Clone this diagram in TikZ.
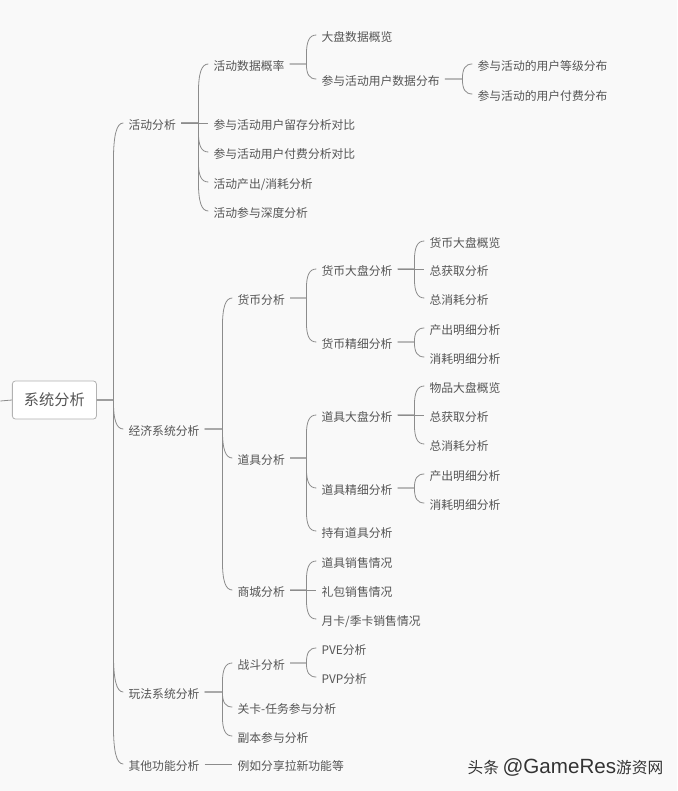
\documentclass[tikz,border=0pt]{standalone}
\usepackage{fontspec}
\setmainfont{Noto Sans CJK SC}
\newfontfamily\latinfont{Liberation Sans}
\usetikzlibrary{calc}
\definecolor{bgcol}{HTML}{F9F9F9}
\definecolor{txtcol}{HTML}{555555}
\definecolor{linecol}{HTML}{8C8C8C}
\tikzset{
    item/.style={anchor=west, inner xsep=5pt, inner ysep=0pt, text height=13pt, text depth=0pt, text=txtcol, font=\fontsize{11.8}{14}\selectfont},
    rootbox/.style={draw=black!30, fill=white, rounded corners=3pt, line width=0.8pt, minimum width=84pt, minimum height=38pt, text=txtcol, font=\fontsize{15.2}{18}\selectfont},
    mark text/.style={anchor=west, inner sep=0pt, font=\fontsize{15.7}{18}\selectfont},
    link/.style={draw=linecol, line width=0.8pt},
    branch/.style={link, to path={
        let \p1=(\tikztostart), \p2=(\tikztotarget),
            \n1={\x2-10pt}, \n2={min(#1,abs(\y2-\y1))*(\y2>\y1?1:-1)} in
        -- (\n1,\y1) -- (\n1,\y2-\n2)
        .. controls (\n1,\y2-0.3*\n2) and (\n1+3pt,\y2) .. (\p2)}},
    branch/.default=20pt
}
\begin{document}
\begin{tikzpicture}[x=1pt, y=-1pt]
    \fill[bgcol] (0,0) rectangle (677,791);

    \coordinate (rootin) at (0,401);
    \node[rootbox] (root) at (54,400) {系统分析};

    \node[item] (act) at (123,123) {活动分析};
    \node[item] (eco) at (123,429) {经济系统分析};
    \node[item] (play) at (123,692) {玩法系统分析};
    \node[item] (other) at (123,764) {其他功能分析};

    \node[item] (actdata) at (208,64) {活动数据概率};
    \node[item] (actkeep) at (208,123) {参与活动用户留存分析对比};
    \node[item] (actpay) at (208,152) {参与活动用户付费分析对比};
    \node[item] (actcost) at (208,182) {活动产出/消耗分析};
    \node[item] (actdeep) at (208,211) {活动参与深度分析};

    \node[item] (overview) at (316,35) {大盘数据概览};
    \node[item] (userdist) at (316,79) {参与活动用户数据分布};
    \node[item] (userlevel) at (472,64) {参与活动的用户等级分布};
    \node[item] (userpay) at (472,94) {参与活动的用户付费分布};

    \node[item] (coin) at (232,298) {货币分析};
    \node[item] (prop) at (232,458) {道具分析};
    \node[item] (shop) at (232,590) {商城分析};

    \node[item] (coinall) at (316,269) {货币大盘分析};
    \node[item] (coindet) at (316,342) {货币精细分析};
    \node[item] (coinview) at (424,241) {货币大盘概览};
    \node[item] (coinget) at (424,269) {总获取分析};
    \node[item] (coinuse) at (424,298) {总消耗分析};
    \node[item] (coinout) at (424,328) {产出明细分析};
    \node[item] (coincost) at (424,357) {消耗明细分析};

    \node[item] (propall) at (316,415) {道具大盘分析};
    \node[item] (propdet) at (316,488) {道具精细分析};
    \node[item] (prophold) at (316,531) {持有道具分析};
    \node[item] (propview) at (424,386) {物品大盘概览};
    \node[item] (propget) at (424,415) {总获取分析};
    \node[item] (propuse) at (424,444) {总消耗分析};
    \node[item] (propout) at (424,474) {产出明细分析};
    \node[item] (propcost) at (424,503) {消耗明细分析};

    \node[item] (shopprop) at (316,561) {道具销售情况};
    \node[item] (shoppack) at (316,590) {礼包销售情况};
    \node[item] (shopcard) at (316,619) {月卡/季卡销售情况};

    \node[item] (fight) at (232,663) {战斗分析};
    \node[item] (stage) at (232,707) {关卡-任务参与分析};
    \node[item] (dungeon) at (232,736) {副本参与分析};
    \node[item] (pve) at (316,648) {PVE分析};
    \node[item] (pvp) at (316,677) {PVP分析};
    \node[item] (share) at (232,764) {例如分享拉新功能等};

    \draw[link] (rootin) -- (root.west);
    \draw[branch=40pt] (root.east) to (act.west);
    \draw[branch=40pt] (root.east) to (eco.west);
    \draw[branch=40pt] (root.east) to (play.west);
    \draw[branch=40pt] (root.east) to (other.west);

    \draw[branch=30pt] (act.east) to (actdata.west);
    \draw[link] (act.east) -- (actkeep.west);
    \draw[branch] (act.east) to (actpay.west);
    \draw[branch] (act.east) to (actcost.west);
    \draw[branch=30pt] (act.east) to (actdeep.west);
    \draw[branch] (actdata.east) to (overview.west);
    \draw[branch] (actdata.east) to (userdist.west);
    \draw[branch] (userdist.east) to (userlevel.west);
    \draw[branch] (userdist.east) to (userpay.west);

    \draw[branch=30pt] (eco.east) to (coin.west);
    \draw[branch=30pt] (eco.east) to (prop.west);
    \draw[branch=30pt] (eco.east) to (shop.west);
    \draw[branch] (coin.east) to (coinall.west);
    \draw[branch] (coin.east) to (coindet.west);
    \draw[branch] (coinall.east) to (coinview.west);
    \draw[link] (coinall.east) -- (coinget.west);
    \draw[branch] (coinall.east) to (coinuse.west);
    \draw[branch] (coindet.east) to (coinout.west);
    \draw[branch] (coindet.east) to (coincost.west);

    \draw[branch] (prop.east) to (propall.west);
    \draw[branch] (prop.east) to (propdet.west);
    \draw[branch] (prop.east) to (prophold.west);
    \draw[branch] (propall.east) to (propview.west);
    \draw[link] (propall.east) -- (propget.west);
    \draw[branch] (propall.east) to (propuse.west);
    \draw[branch] (propdet.east) to (propout.west);
    \draw[branch] (propdet.east) to (propcost.west);

    \draw[branch] (shop.east) to (shopprop.west);
    \draw[link] (shop.east) -- (shoppack.west);
    \draw[branch] (shop.east) to (shopcard.west);

    \draw[branch] (play.east) to (fight.west);
    \draw[branch] (play.east) to (stage.west);
    \draw[branch] (play.east) to (dungeon.west);
    \draw[branch] (fight.east) to (pve.west);
    \draw[branch] (fight.east) to (pvp.west);
    \draw[link] (other.east) -- (share.west);

    % watermark
    \node[mark text, text=white] (markback) at (467.8,767.8) {头条 {\latinfont\fontsize{20.6}{21}\selectfont @GameRes}游资网};
    \node[mark text, text=black!80] (mark) at (467,767) {头条 {\latinfont\fontsize{20.6}{21}\selectfont @GameRes}游资网};
\end{tikzpicture}
\end{document}
